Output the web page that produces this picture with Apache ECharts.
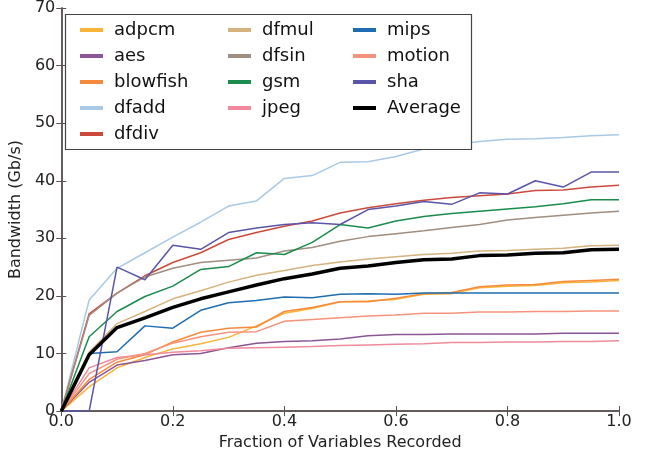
<!DOCTYPE html>
<html>
<head>
<meta charset="utf-8">
<script src="https://cdn.jsdelivr.net/npm/echarts@6/dist/echarts.min.js"></script>
<style>
	html, body { margin: 0; padding: 0; background: #fff; }
	#chart { width: 646px; height: 456px; }
</style>
</head>
<body>
<div id="chart"></div>
<script>
const fractions = [0, 0.05, 0.1, 0.15, 0.2, 0.25, 0.3, 0.35, 0.4, 0.45, 0.5, 0.55, 0.6, 0.65, 0.7, 0.75, 0.8, 0.85, 0.9, 0.95, 1.0]

const adpcm = [0, 4.2, 7.5, 9.3, 10.8, 11.7, 12.8, 14.8, 17.0, 17.8, 19.0, 19.1, 19.4, 20.3, 20.4, 21.4, 21.7, 21.8, 22.3, 22.4, 22.7]
const aes = [0, 5.0, 8.0, 8.8, 9.8, 10.0, 11.0, 11.8, 12.1, 12.2, 12.5, 13.1, 13.3, 13.3, 13.4, 13.4, 13.4, 13.4, 13.5, 13.5, 13.5]
const blowfish = [0, 5.5, 8.5, 9.8, 12.0, 13.7, 14.4, 14.6, 17.3, 18.0, 19.0, 19.0, 19.6, 20.4, 20.6, 21.6, 21.9, 22.0, 22.5, 22.7, 22.9]
const dfadd = [0, 19.3, 24.8, 27.5, 30.2, 32.8, 35.6, 36.5, 40.4, 40.9, 43.2, 43.3, 44.2, 45.5, 46.2, 46.8, 47.2, 47.3, 47.5, 47.8, 48.0]
const dfdiv = [0, 16.9, 20.5, 23.5, 25.8, 27.5, 29.8, 31.0, 32.1, 33.0, 34.4, 35.3, 36.0, 36.6, 37.1, 37.4, 37.7, 38.3, 38.4, 38.9, 39.2]
const dfmul = [0, 10.2, 15.2, 17.3, 19.5, 20.9, 22.4, 23.6, 24.4, 25.3, 25.9, 26.4, 26.8, 27.2, 27.4, 27.8, 27.9, 28.1, 28.3, 28.7, 28.8]
const dfsin = [0, 16.6, 20.5, 23.3, 24.8, 25.8, 26.2, 26.6, 27.8, 28.4, 29.5, 30.3, 30.8, 31.3, 31.9, 32.4, 33.2, 33.6, 34.0, 34.4, 34.7]
const gsm = [0, 12.9, 17.3, 19.9, 21.7, 24.6, 25.1, 27.5, 27.2, 29.3, 32.4, 31.8, 33.0, 33.8, 34.3, 34.7, 35.1, 35.5, 36.0, 36.7, 36.7]
const jpeg = [0, 7.5, 9.3, 9.8, 10.2, 10.5, 10.9, 11.0, 11.1, 11.2, 11.4, 11.5, 11.6, 11.7, 11.9, 11.9, 12.0, 12.0, 12.1, 12.1, 12.2]
const mips = [0, 10.0, 10.3, 14.8, 14.4, 17.5, 18.8, 19.2, 19.8, 19.7, 20.3, 20.4, 20.3, 20.5, 20.5, 20.5, 20.5, 20.5, 20.5, 20.5, 20.5]
const motion = [0, 6.5, 9.0, 10.0, 11.8, 12.9, 13.7, 13.8, 15.6, 15.9, 16.2, 16.5, 16.7, 17.0, 17.0, 17.2, 17.2, 17.3, 17.3, 17.4, 17.4]
const sha = [0, 0, 25.0, 22.8, 28.8, 28.1, 31.0, 31.8, 32.4, 32.7, 32.4, 35.0, 35.6, 36.4, 35.9, 37.9, 37.7, 40.0, 38.9, 41.5, 41.5]
const average = [0, 9.8, 14.5, 16.2, 18.0, 19.5, 20.7, 21.9, 23.0, 23.8, 24.8, 25.2, 25.8, 26.3, 26.4, 27.0, 27.1, 27.4, 27.5, 28.0, 28.1]

const xTicks = [0, 0.2, 0.4, 0.6, 0.8, 1.0]
const yTicks = [0, 10, 20, 30, 40, 50, 60, 70]

const seriesList = [
	{ name: 'adpcm', data: adpcm, color: '#f9b43a' },
	{ name: 'aes', data: aes, color: '#8c5596' },
	{ name: 'blowfish', data: blowfish, color: '#f58a3c' },
	{ name: 'dfadd', data: dfadd, color: '#a9c9e6' },
	{ name: 'dfdiv', data: dfdiv, color: '#cc4a3c' },
	{ name: 'dfmul', data: dfmul, color: '#d5b27e' },
	{ name: 'dfsin', data: dfsin, color: '#a08e80' },
	{ name: 'gsm', data: gsm, color: '#1b8c4c' },
	{ name: 'jpeg', data: jpeg, color: '#f08a9c' },
	{ name: 'mips', data: mips, color: '#1f6db0' },
	{ name: 'motion', data: motion, color: '#f6937c' },
	{ name: 'sha', data: sha, color: '#5a55a8' },
	{ name: 'Average', data: average, color: '#000000', width: 3.5 },
]

const font = 'DejaVu Sans'
const axisColor = '#5a5250'

// matplotlib fills legend columns top to bottom
const legendCols = [
	['adpcm', 'aes', 'blowfish', 'dfadd', 'dfdiv'],
	['dfmul', 'dfsin', 'gsm', 'jpeg'],
	['mips', 'motion', 'sha', 'Average'],
]
const legendLeft = [75, 223, 348]

const myChart = echarts.init(document.getElementById('chart'))

const baseX = {
	type: 'value',
	min: 0,
	max: 1,
	interval: 0.2,
	axisLine: { lineStyle: { color: axisColor, width: 1.5 } },
	axisTick: { inside: true, length: 5, lineStyle: { color: axisColor } },
	splitLine: { show: false },
}
const baseY = {
	type: 'value',
	min: 0,
	max: 70,
	interval: 10,
	axisLine: { show: true, lineStyle: { color: axisColor, width: 1.5 } },
	axisTick: { show: true, inside: true, length: 5, lineStyle: { color: axisColor } },
	splitLine: { show: false },
}

const options = {
	backgroundColor: '#fff',
	animation: false,
	textStyle: { fontFamily: font },
	grid: { left: 60, right: 27, top: 7, bottom: 43 },
	xAxis: [
		{
			...baseX,
			position: 'bottom',
			name: 'Fraction of Variables Recorded',
			nameLocation: 'middle',
			nameGap: 19,
			nameTextStyle: { fontSize: 16, color: '#222', fontFamily: font },
			axisLabel: {
				fontSize: 16,
				color: '#222',
				margin: 3,
				fontFamily: font,
				formatter: (v) => v.toFixed(1),
			},
		},
		{
			...baseX,
			position: 'top',
			axisLabel: { show: false },
		},
	],
	yAxis: [
		{
			...baseY,
			position: 'left',
			name: 'Bandwidth (Gb/s)',
			nameLocation: 'middle',
			nameGap: 34,
			nameTextStyle: { fontSize: 16, color: '#222', fontFamily: font },
			axisLabel: { fontSize: 16, color: '#222', margin: 6, fontFamily: font },
		},
		{
			...baseY,
			position: 'right',
			axisLabel: { show: false },
		},
	],
	legend: legendCols.map((col, i) => ({
		data: col,
		orient: 'vertical',
		left: legendLeft[i],
		top: 16,
		icon: 'rect',
		itemWidth: 23,
		itemHeight: 4,
		itemGap: 8,
		z: 20,
		selectedMode: false,
		textStyle: {
			fontSize: 18,
			lineHeight: 18,
			color: '#111',
			fontFamily: font,
			padding: [0, 0, 0, 6],
		},
	})),
	graphic: [
		{
			type: 'rect',
			z: 15,
			shape: { x: 65.5, y: 14.5, width: 406, height: 135 },
			style: { fill: '#fff', stroke: '#444', lineWidth: 1.2 },
		},
	],
	series: seriesList.map((s) => ({
		name: s.name,
		type: 'line',
		data: s.data.map((v, i) => [fractions[i], v]),
		showSymbol: false,
		symbol: 'none',
		color: s.color,
		lineStyle: { color: s.color, width: s.width || 1.5 },
		z: 2,
	})),
}

myChart.setOption(options)
</script>
</body>
</html>
